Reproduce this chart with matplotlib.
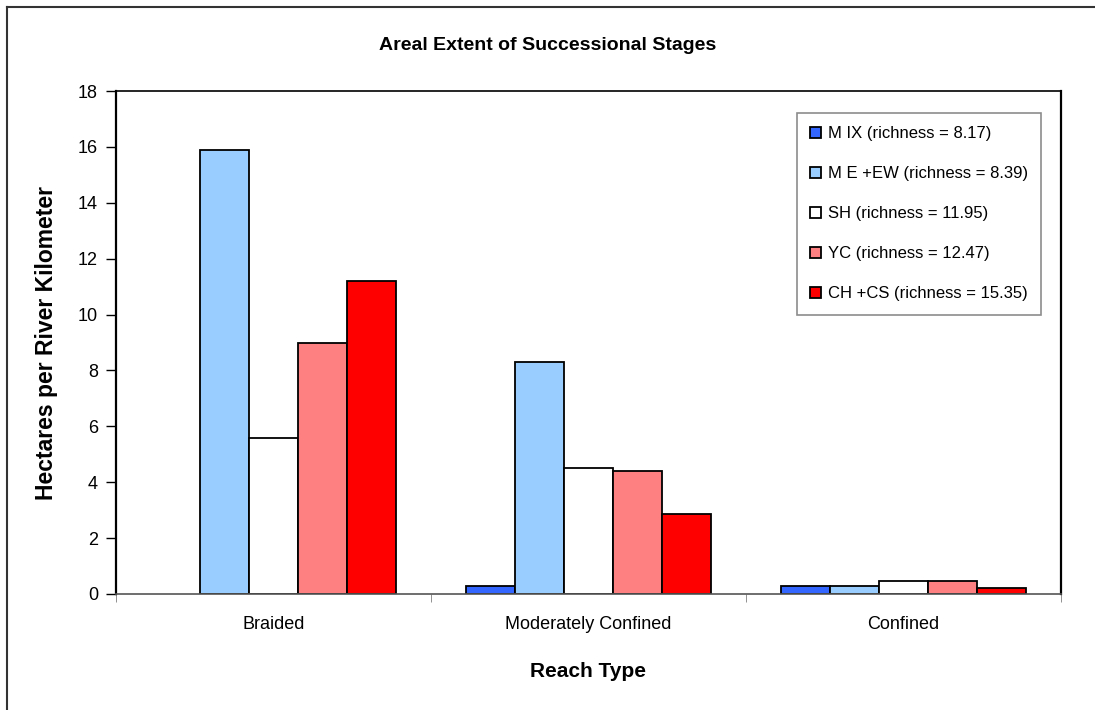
import matplotlib
matplotlib.use("Agg")
import matplotlib.pyplot as plt
import numpy as np
from matplotlib.lines import Line2D

plt.rcParams['font.family'] = ['Liberation Sans', 'DejaVu Sans']

categories = ["Braided", "Moderately Confined", "Confined"]
series_names = ["M IX (richness = 8.17)", "M E +EW (richness = 8.39)",
                "SH (richness = 11.95)", "YC (richness = 12.47)",
                "CH +CS (richness = 15.35)"]
mix = [0.0, 0.3, 0.3]
me_ew = [15.9, 8.3, 0.3]
sh = [5.6, 4.5, 0.48]
yc = [9.0, 4.4, 0.47]
ch_cs = [11.2, 2.85, 0.22]
colors = ["#3366FF", "#99CCFF", "#FFFFFF", "#FF8080", "#FF0000"]

W, H = 1095, 710
fig = plt.figure(figsize=(W/100, H/100), dpi=100)
L, R, T, B = 116, 1061, 91, 594
ax = fig.add_axes([L/W, 1-B/H, (R-L)/W, (B-T)/H])

series = [mix, me_ew, sh, yc, ch_cs]
n = len(series)
bw = 0.156
x = np.arange(len(categories))
for i, (vals, c, name) in enumerate(zip(series, colors, series_names)):
    v = np.array(vals, dtype=float)
    xs = x + (i - (n-1)/2) * bw
    mask = v > 0
    ax.bar(xs[mask], v[mask], width=bw, color=c, edgecolor='black',
           linewidth=1.3, label=name)

ax.set_xlim(-0.5, 2.5)
ax.set_ylim(0, 18)
ax.set_yticks(np.arange(0, 19, 2))
ax.tick_params(axis='y', direction='out', length=7, labelsize=13, width=1, pad=6)
ax.set_xticks(x)
ax.set_xticklabels(categories, fontsize=13)
ax.tick_params(axis='x', length=0, pad=16)
ax.set_xticks([-0.5, 0.5, 1.5, 2.5], minor=True)
ax.tick_params(axis='x', which='minor', direction='out', length=6, color='#808080')
for s in ax.spines.values():
    s.set_linewidth(1.2)
ax.spines['left'].set_linewidth(1.6)
ax.spines['right'].set_linewidth(1.6)
ax.spines['bottom'].set_color('#555555')

ax.set_ylabel("Hectares per River Kilometer", fontsize=16.5, fontweight='bold', labelpad=14)
ax.set_xlabel("Reach Type", fontsize=15, fontweight='bold', labelpad=21)
fig.text(0.5, 1-45/H, "Areal Extent of Successional Stages", ha='center', va='center',
         fontsize=14, fontweight='bold')

leg = ax.legend(loc='upper left', fontsize=12, frameon=True, fancybox=False,
                edgecolor='#707070', handlelength=0.65, handleheight=0.65,
                handletextpad=0.4, labelspacing=1.5, borderpad=0.8,
                borderaxespad=0, bbox_to_anchor=(797/W, 1-113/H),
                bbox_transform=fig.transFigure)
leg.get_frame().set_linewidth(1.2)

# outer chart border (only left and top visible in the reference)
fig.add_artist(Line2D([7/W, 7/W], [0, 1-7/H], transform=fig.transFigure,
                      color='#333333', linewidth=1.5))
fig.add_artist(Line2D([7/W, 1], [1-7/H, 1-7/H], transform=fig.transFigure,
                      color='#333333', linewidth=1.5))

fig.savefig("out.png", dpi=100)
